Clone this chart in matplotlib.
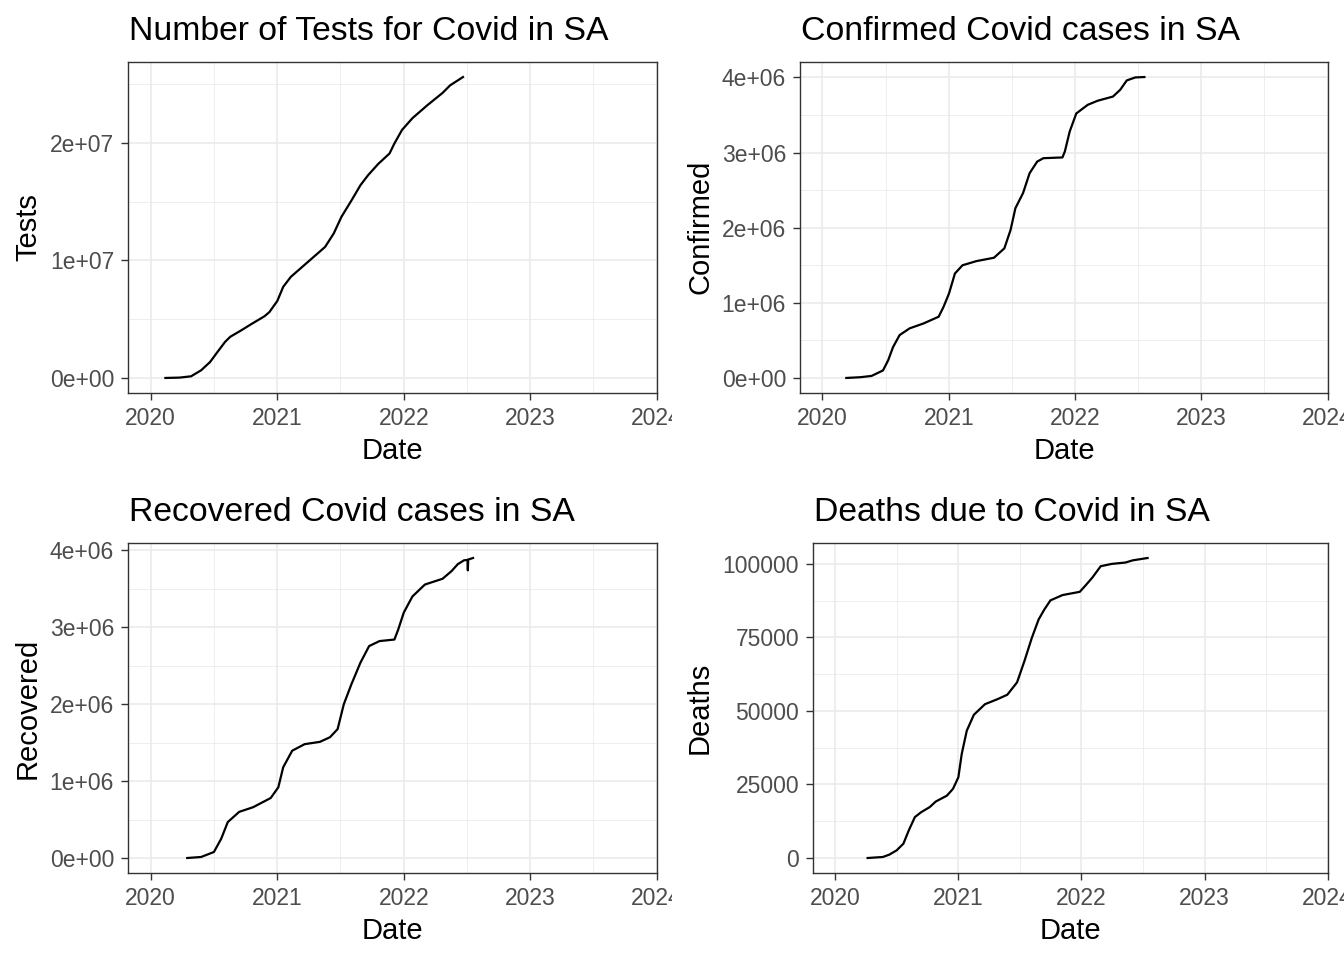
import numpy as np
import matplotlib
matplotlib.use("Agg")
import matplotlib.pyplot as plt
from matplotlib.transforms import Bbox, TransformedBbox

plt.rcParams['font.family'] = ['Liberation Sans', 'DejaVu Sans']

# values
tests_dates = ["2020-02-13", "2020-03-25", "2020-04-27", "2020-05-26", "2020-06-21", "2020-07-12",
               "2020-08-03", "2020-08-18", "2020-09-16", "2020-10-19", "2020-11-25", "2020-12-09",
               "2021-01-01", "2021-01-18", "2021-02-09", "2021-03-14", "2021-04-16", "2021-05-19",
               "2021-06-13", "2021-07-05", "2021-08-03", "2021-08-29", "2021-09-20", "2021-10-19",
               "2021-11-21", "2021-12-05", "2021-12-27", "2022-01-26", "2022-03-10", "2022-04-23",
               "2022-05-15", "2022-06-21"]
tests = [0, 0.03e6, 0.14e6, 0.65e6, 1.36e6, 2.2e6, 3.06e6, 3.5e6, 4.0e6, 4.6e6, 5.25e6, 5.6e6,
         6.55e6, 7.75e6, 8.6e6, 9.45e6, 10.3e6, 11.15e6, 12.3e6, 13.7e6, 15.1e6, 16.4e6, 17.25e6,
         18.2e6, 19.1e6, 19.95e6, 21.1e6, 22.1e6, 23.2e6, 24.25e6, 24.9e6, 25.6e6]

confirmed_dates = ["2020-03-10", "2020-04-20", "2020-05-22", "2020-06-24", "2020-07-09", "2020-07-23",
                   "2020-08-11", "2020-09-09", "2020-10-19", "2020-12-02", "2020-12-16", "2021-01-01",
                   "2021-01-18", "2021-02-09", "2021-03-21", "2021-05-11", "2021-06-10", "2021-06-28",
                   "2021-07-12", "2021-08-03", "2021-08-22", "2021-09-13", "2021-10-01", "2021-11-25",
                   "2021-12-02", "2021-12-16", "2022-01-04", "2022-02-06", "2022-03-07", "2022-04-20",
                   "2022-05-11", "2022-05-30", "2022-06-24", "2022-07-20"]
confirmed = [0, 0.01e6, 0.027e6, 0.10e6, 0.235e6, 0.41e6, 0.57e6, 0.66e6, 0.725e6, 0.815e6, 0.945e6,
             1.125e6, 1.39e6, 1.50e6, 1.555e6, 1.60e6, 1.725e6, 1.97e6, 2.26e6, 2.46e6, 2.725e6,
             2.88e6, 2.925e6, 2.935e6, 3.015e6, 3.28e6, 3.52e6, 3.635e6, 3.69e6, 3.745e6, 3.835e6,
             3.96e6, 4.0e6, 4.005e6]

recovered_dates = ["2020-04-16", "2020-05-26", "2020-07-02", "2020-07-23", "2020-08-11", "2020-09-13",
                   "2020-10-23", "2020-12-13", "2021-01-04", "2021-01-18", "2021-02-13", "2021-03-21",
                   "2021-05-04", "2021-06-02", "2021-06-24", "2021-07-12", "2021-08-03", "2021-08-29",
                   "2021-09-23", "2021-10-23", "2021-12-05", "2021-12-16", "2022-01-01", "2022-01-26",
                   "2022-03-03", "2022-04-23", "2022-05-19", "2022-06-06", "2022-06-24", "2022-07-04",
                   "2022-07-05", "2022-07-06", "2022-07-20"]
recovered = [0, 0.013e6, 0.078e6, 0.25e6, 0.467e6, 0.60e6, 0.66e6, 0.78e6, 0.92e6, 1.18e6, 1.395e6,
             1.48e6, 1.51e6, 1.57e6, 1.675e6, 2.0e6, 2.26e6, 2.54e6, 2.755e6, 2.82e6, 2.84e6, 2.97e6,
             3.19e6, 3.40e6, 3.555e6, 3.63e6, 3.73e6, 3.82e6, 3.87e6, 3.875e6, 3.74e6, 3.88e6, 3.90e6]

deaths_dates = ["2020-04-07", "2020-05-22", "2020-06-10", "2020-07-02", "2020-07-22", "2020-08-07",
                "2020-08-25", "2020-09-13", "2020-10-08", "2020-10-26", "2020-11-28", "2020-12-16",
                "2021-01-01", "2021-01-11", "2021-01-26", "2021-02-16", "2021-03-21", "2021-04-27",
                "2021-05-26", "2021-06-24", "2021-07-16", "2021-08-07", "2021-08-27", "2021-09-13",
                "2021-10-01", "2021-11-06", "2021-12-27", "2022-01-11", "2022-02-02", "2022-02-27",
                "2022-04-01", "2022-05-11", "2022-06-02", "2022-07-16"]
deaths = [0, 340, 1130, 2600, 4860, 9380, 13900, 15600, 17300, 19200, 21200, 23500, 27450, 35400,
          43300, 48700, 52300, 54000, 55500, 59700, 67000, 74900, 81100, 84500, 87600, 89400, 90500,
          92400, 95300, 99200, 100000, 100450, 101200, 102000]

year_labels = ["2020", "2021", "2022", "2023", "2024"]
year_ticks = np.array(["2020-01-01", "2021-01-01", "2022-01-01", "2023-01-01", "2024-01-01"], dtype="datetime64[D]")
year_minor = np.array(["2020-07-02", "2021-07-02", "2022-07-02", "2023-07-02"], dtype="datetime64[D]")

W, H = 1344, 960
fig = plt.figure(figsize=(13.44, 9.6), dpi=100)
left_half = TransformedBbox(Bbox([[0, 0], [672 / W, 1]]), fig.transFigure)


def panel(box, dates, vals, title, yticks, ylabels, yminor, clip):
    l, t, r, b = box
    ax = fig.add_axes([l / W, 1 - b / H, (r - l) / W, (b - t) / H])
    ax.plot(np.array(dates, dtype="datetime64[D]"), vals, color="black", lw=1.6)

    lo, hi = min(vals), max(vals)
    pad = 0.05 * (hi - lo)
    ax.set_ylim(lo - pad, hi + pad)
    ax.set_xlim(np.datetime64("2019-10-28"), np.datetime64("2024-01-02"))

    ax.set_xticks(year_ticks)
    ax.set_xticklabels(year_labels)
    ax.set_xticks(year_minor, minor=True)
    ax.set_yticks(yticks)
    ax.set_yticklabels(ylabels)
    ax.set_yticks(yminor, minor=True)

    ax.set_axisbelow(True)
    ax.grid(which="major", color="#EBEBEB", lw=1.2)
    ax.grid(which="minor", color="#EBEBEB", lw=0.6)
    ax.tick_params(which="major", length=5, width=1.0, color="#333333",
                   labelcolor="#4D4D4D", labelsize=16.5, pad=5)
    ax.tick_params(which="minor", length=0)
    for s in ax.spines.values():
        s.set_color("#333333")
        s.set_linewidth(1.0)

    # the 2024 label of the left column is cut at the middle of the figure
    if clip:
        for lbl in ax.get_xticklabels():
            lbl.set_clip_on(True)
            lbl.set_clip_box(left_half)

    fig.text((l + 1) / W, 1 - (t - 22) / H, title, fontsize=24.3, color="black", va="baseline", ha="left")
    fig.text((l + r) / 2 / W, 1 - (b + 66) / H, "Date", fontsize=21, color="black", va="baseline", ha="center")
    return ax


ax1 = panel((128, 62, 657, 393), tests_dates, tests, "Number of Tests for Covid in SA",
            [0, 1e7, 2e7], ["0e+00", "1e+07", "2e+07"], [5e6, 1.5e7, 2.5e7], True)
ax2 = panel((800, 62, 1328, 393), confirmed_dates, confirmed, "Confirmed Covid cases in SA",
            [0, 1e6, 2e6, 3e6, 4e6], ["0e+00", "1e+06", "2e+06", "3e+06", "4e+06"],
            [0.5e6, 1.5e6, 2.5e6, 3.5e6], False)
ax3 = panel((128, 543, 657, 873), recovered_dates, recovered, "Recovered Covid cases in SA",
            [0, 1e6, 2e6, 3e6, 4e6], ["0e+00", "1e+06", "2e+06", "3e+06", "4e+06"],
            [0.5e6, 1.5e6, 2.5e6, 3.5e6], True)
ax4 = panel((813, 543, 1328, 873), deaths_dates, deaths, "Deaths due to Covid in SA",
            [0, 25000, 50000, 75000, 100000], ["0", "25000", "50000", "75000", "100000"],
            [12500, 37500, 62500, 87500], False)

# y axis titles
fig.text(28 / W, 1 - 227 / H, "Tests", rotation=90, fontsize=21, ha="center", va="center")
fig.text(700 / W, 1 - 227 / H, "Confirmed", rotation=90, fontsize=21, ha="center", va="center")
fig.text(28 / W, 1 - 708 / H, "Recovered", rotation=90, fontsize=21, ha="center", va="center")
fig.text(700 / W, 1 - 708 / H, "Deaths", rotation=90, fontsize=21, ha="center", va="center")

fig.savefig("out.png", dpi=100, facecolor="white")
